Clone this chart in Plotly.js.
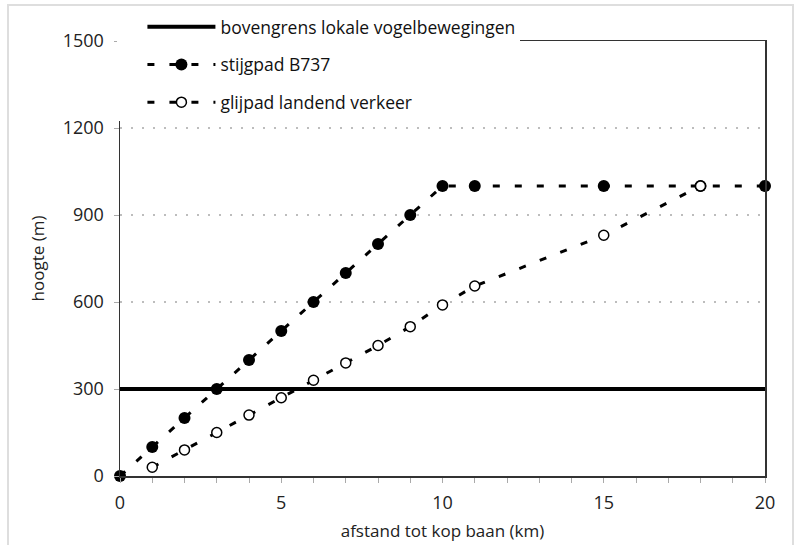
<!DOCTYPE html>
<html>
<head>
<meta charset="utf-8">
<script src="https://cdn.plot.ly/plotly-3.0.1.min.js"></script>
<style>
  html, body { margin: 0; padding: 0; background: #fff; overflow: hidden; }
  #chart { width: 794px; height: 545px; }
  #frame { position: absolute; left: 7px; top: 4px; width: 783px; height: 600px;
           border-left: 2px solid #dedede; border-top: 2px solid #dedede; border-right: 2px solid #dedede;
           pointer-events: none; }
</style>
</head>
<body>
<div id="chart"></div>
<div id="frame"></div>
<script>
// Data
const limitName = "bovengrens lokale vogelbewegingen";
const limitX = [0, 20];
const limitY = [300, 300];

const climbName = "stijgpad B737";
const climbX = [0, 1, 2, 3, 4, 5, 6, 7, 8, 9, 10, 11, 15, 18, 20];
const climbY = [0, 100, 200, 300, 400, 500, 600, 700, 800, 900, 1000, 1000, 1000, 1000, 1000];

const glideName = "glijpad landend verkeer";
const glideX = [1, 2, 3, 4, 5, 6, 7, 8, 9, 10, 11, 15, 18];
const glideY = [30, 90, 150, 210, 270, 330, 390, 450, 515, 590, 655, 830, 1000];

const xTitle = "afstand tot kop baan (km)";
const yTitle = "hoogte (m)";
const xTickVals = [0, 5, 10, 15, 20];
const yTickVals = [0, 300, 600, 900, 1200, 1500];

const FONT = "Open Sans, sans-serif";

const traces = [
  {
    x: limitX, y: limitY, name: limitName, mode: "lines", legendgroup: "a",
    line: { color: "#000", width: 4 }, cliponaxis: false
  },
  {
    x: climbX, y: climbY, name: climbName, mode: "lines+markers", legendgroup: "b",
    line: { color: "#000", width: 3, dash: "7px,15px" },
    marker: { symbol: "circle", size: 12, color: "#000" }, cliponaxis: false
  },
  {
    x: glideX, y: glideY, name: glideName, mode: "lines+markers", legendgroup: "c",
    line: { color: "#000", width: 3, dash: "7px,15px" },
    marker: { symbol: "circle", size: 10, color: "#fff", line: { color: "#000", width: 1.5 } },
    cliponaxis: false
  }
];

const layout = {
  width: 794, height: 545,
  margin: { l: 120, r: 29, t: 41, b: 69, autoexpand: false },
  paper_bgcolor: "rgba(0,0,0,0)",
  plot_bgcolor: "#fff",
  font: { family: FONT, color: "#222", size: 17 },
  showlegend: true,
  legend: {
    x: -0.004, xanchor: "left", y: 1.074, yanchor: "top",
    bgcolor: "#fff", borderwidth: 0,
    font: { family: FONT, size: 17.5, color: "#111" },
    itemwidth: 68, indentation: 25,
    traceorder: "grouped", tracegroupgap: 12
  },
  xaxis: {
    range: [0, 20], tickvals: xTickVals, ticktext: xTickVals.map(String),
    automargin: false,
    showgrid: false, zeroline: false,
    showline: true, mirror: true, linecolor: "#333", linewidth: 1.5,
    ticks: "outside", ticklen: 5, tickcolor: "#aaa", tickwidth: 1,
    minor: { dtick: 1, ticks: "outside", ticklen: 5, tickcolor: "#aaa", tickwidth: 1, showgrid: false },
    ticklabelstandoff: 5,
    tickfont: { family: FONT, size: 18, color: "#222" },
    title: { text: xTitle, font: { family: FONT, size: 17, color: "#222" }, standoff: 12 }
  },
  yaxis: {
    range: [0, 1500], tickvals: yTickVals, ticktext: yTickVals.map(String),
    automargin: false,
    showgrid: true, gridcolor: "#bdbdbd", gridwidth: 1.5, griddash: "2px,9px",
    zeroline: false,
    showline: true, mirror: true, linecolor: "#333", linewidth: 1.5,
    ticks: "outside", ticklen: 5, tickcolor: "#aaa", tickwidth: 1,
    ticklabelstandoff: 6,
    tickfont: { family: FONT, size: 18, color: "#222" },
    title: { text: yTitle, font: { family: FONT, size: 17, color: "#222" }, standoff: 14 }
  }
};

Plotly.newPlot("chart", traces, layout, { displayModeBar: false, staticPlot: true });
</script>
</body>
</html>
